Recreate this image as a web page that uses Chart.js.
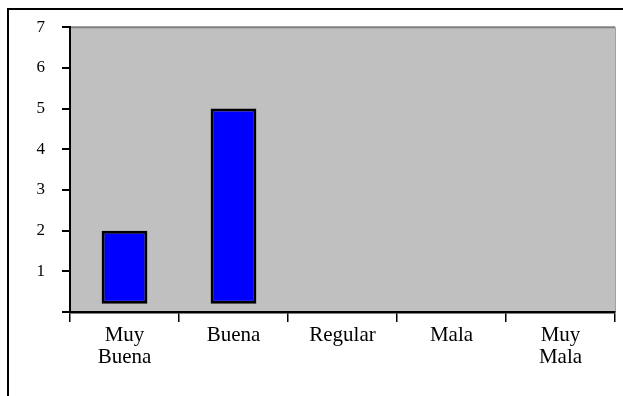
<!DOCTYPE html>
<html>
<head>
<meta charset="utf-8">
<script src="https://cdn.jsdelivr.net/npm/chart.js@4/dist/chart.umd.min.js"></script>
<style>
  html, body { margin: 0; padding: 0; background: #fff; overflow: hidden; }
  #wrap { position: relative; width: 623px; height: 396px; }
  #frame { position: absolute; left: 7px; top: 8px; width: 640px; height: 420px;
           border-left: 2px solid #000; border-top: 2px solid #000; }
  canvas { position: absolute; left: 0; top: 0; }
</style>
</head>
<body>
<div id="wrap">
  <div id="frame"></div>
  <canvas id="barChart" width="623" height="396"></canvas>
</div>
<script>
// Datos del gráfico
const categories = [["Muy", "Buena"], "Buena", "Regular", "Mala", ["Muy", "Mala"]];
const values = [2, 5, 0, 0, 0];
const yTicks = [0, 1, 2, 3, 4, 5, 6, 7];

// fondo gris del área de trazado
const plotBackground = {
    id: "plotBackground",
    beforeDraw(chart) {
        const { ctx, chartArea: a } = chart;
        ctx.save();
        ctx.fillStyle = "#C0C0C0";
        ctx.fillRect(a.left, a.top, a.right - a.left, a.bottom - a.top);
        ctx.strokeStyle = "#808080";
        ctx.lineWidth = 2;
        ctx.beginPath();
        ctx.moveTo(a.left, a.top);
        ctx.lineTo(a.right, a.top);
        ctx.stroke();
        ctx.strokeStyle = "#A0A0A0";
        ctx.lineWidth = 1;
        ctx.beginPath();
        ctx.moveTo(a.right + 0.5, a.top);
        ctx.lineTo(a.right + 0.5, a.bottom);
        ctx.stroke();
        ctx.restore();
    }
};

const barCtx = document.getElementById("barChart").getContext("2d");
new Chart(barCtx, {
    type: "bar",
    data: {
        labels: categories,
        datasets: [{
            data: values,
            base: 0.2,
            // las categorías sin respuestas no dibujan barra
            backgroundColor: c => (c.raw > 0 ? "#0000FF" : "rgba(0,0,0,0)"),
            borderColor: "#000000",
            borderWidth: c => (c.raw > 0 ? 3 : 0),
            borderSkipped: false,
            barPercentage: 0.42,
            categoryPercentage: 1
        }]
    },
    options: {
        responsive: false,
        animation: false,
        layout: { padding: { top: 24, right: 8, left: 0, bottom: 0 } },
        plugins: {
            legend: { display: false },
            tooltip: { enabled: false }
        },
        scales: {
            x: {
                afterFit: s => { s.height = 84; },
                border: { color: "#000", width: 2.5 },
                grid: { drawOnChartArea: false, color: "#000", lineWidth: 1.5, tickLength: 10 },
                ticks: {
                    color: "#000",
                    padding: 2,
                    maxRotation: 0,
                    font: { family: "Liberation Serif", size: 21, lineHeight: 1.05 }
                }
            },
            y: {
                min: 0,
                max: 7,
                afterFit: s => { s.width = 70; },
                afterBuildTicks: s => { s.ticks = yTicks.map(v => ({ value: v })); },
                border: { color: "#000", width: 2 },
                grid: { drawOnChartArea: false, color: "#000", lineWidth: 2, tickLength: 8 },
                ticks: {
                    color: "#000",
                    padding: 17,
                    callback: v => (v === 0 ? "" : v),
                    font: { family: "Liberation Serif", size: 17 }
                }
            }
        }
    },
    plugins: [plotBackground]
});
</script>
</body>
</html>
